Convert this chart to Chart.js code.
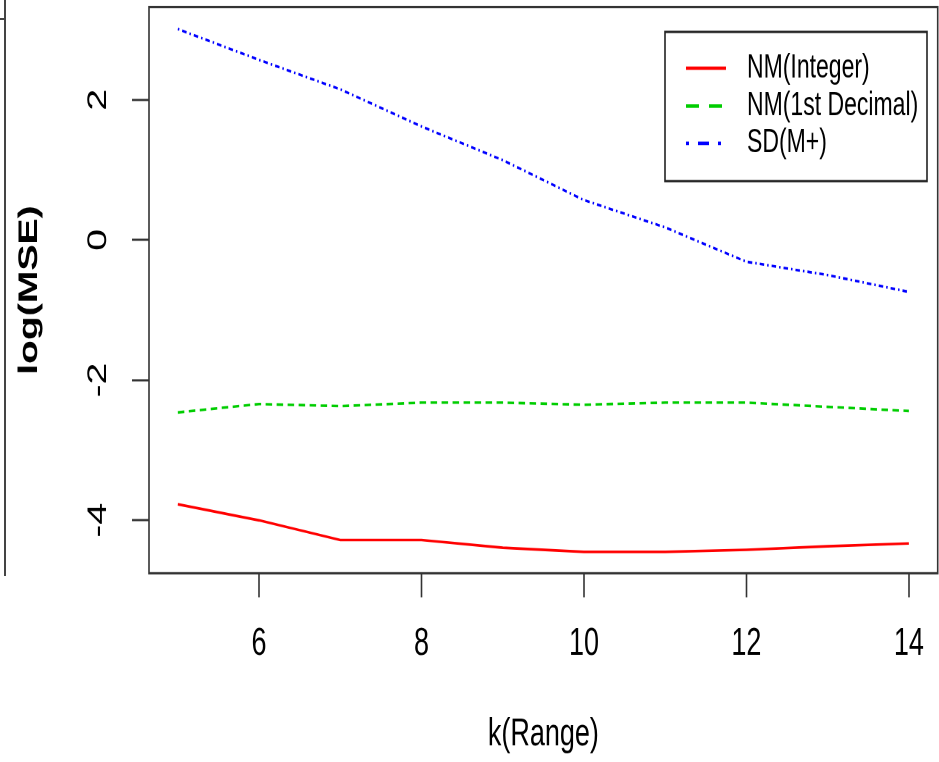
<!DOCTYPE html>
<html>
<head>
<meta charset="utf-8">
<script src="https://cdn.jsdelivr.net/npm/chart.js@4/dist/chart.umd.min.js"></script>
<style>
  html, body { margin: 0; padding: 0; background: #fff; overflow: hidden; }
  #wrap { position: relative; width: 939px; height: 762px; }
  /* the reference is an R plot squeezed into a tall frame, so the canvas is drawn short and stretched */
  #chart { position: absolute; left: 0; top: 0; width: 939px; height: 526px; transform-origin: 0 0; transform: scaleY(1.4487); }
  .panel-edge { position: absolute; left: 4px; top: 0; height: 576px; border-left: 2px solid #444; }
  .panel-tick { position: absolute; left: 0; top: 18px; width: 4px; border-top: 2px solid #444; }
</style>
</head>
<body>
<div id="wrap">
  <div class="panel-edge"></div>
  <div class="panel-tick"></div>
  <canvas id="chart" width="939" height="526"></canvas>
</div>
<script>
  const kValues = [5, 6, 7, 8, 9, 10, 11, 12, 13, 14];
  const nmInteger = [-3.77, -4.0, -4.28, -4.28, -4.39, -4.45, -4.45, -4.42, -4.37, -4.33];
  const nmDecimal = [-2.46, -2.34, -2.37, -2.32, -2.32, -2.35, -2.32, -2.32, -2.38, -2.44];
  const sdMplus = [3.01, 2.57, 2.15, 1.62, 1.14, 0.57, 0.18, -0.31, -0.50, -0.74];
  const seriesNames = ['NM(Integer)', 'NM(1st Decimal)', 'SD(M+)'];
  const xTicks = [6, 8, 10, 12, 14];
  const yTicks = [-4, -2, 0, 2];

  const FONT = "'Liberation Sans', Arial, sans-serif";
  const AXIS = '#333';

  function toPoints(values) {
    return kValues.map((k, i) => ({ x: k, y: values[i] }));
  }

  // box round the plot area, like R's box()
  const boxPlugin = {
    id: 'plotBox',
    afterDraw(chart) {
      const { ctx, chartArea: a } = chart;
      ctx.save();
      ctx.strokeStyle = AXIS;
      ctx.lineWidth = 1.6;
      ctx.strokeRect(a.left, a.top, a.right - a.left, a.bottom - a.top);
      ctx.restore();
    }
  };

  // R style legend with a framed box in the top right corner
  const legendPlugin = {
    id: 'rLegend',
    afterDraw(chart) {
      const { ctx } = chart;
      const box = { left: 665, top: 22, right: 927, bottom: 125 };
      const rowY = [47.1, 73.2, 98.9];
      const sampleDash = [[], [13, 10], [3, 9, 11, 9]];
      ctx.save();
      ctx.fillStyle = '#fff';
      ctx.fillRect(box.left, box.top, box.right - box.left, box.bottom - box.top);
      ctx.strokeStyle = '#222';
      ctx.lineWidth = 1.6;
      ctx.strokeRect(box.left, box.top, box.right - box.left, box.bottom - box.top);
      chart.data.datasets.forEach((ds, i) => {
        const y = rowY[i];
        ctx.beginPath();
        ctx.strokeStyle = ds.borderColor;
        ctx.lineWidth = 2.4;
        ctx.setLineDash(sampleDash[i]);
        ctx.moveTo(686, y);
        ctx.lineTo(726, y);
        ctx.stroke();
        ctx.setLineDash([]);
        ctx.fillStyle = '#000';
        ctx.font = '23px ' + FONT;
        ctx.textBaseline = 'middle';
        ctx.textAlign = 'left';
        ctx.fillText(ds.label, 747, y);
      });
      ctx.restore();
    }
  };

  const lineStyle = { pointRadius: 0, borderWidth: 1.8, tension: 0, fill: false };

  new Chart(document.getElementById('chart'), {
    type: 'line',
    data: {
      datasets: [
        { label: seriesNames[0], data: toPoints(nmInteger), borderColor: '#FF0000', ...lineStyle },
        { label: seriesNames[1], data: toPoints(nmDecimal), borderColor: '#00CD00', borderDash: [6.5, 4.5], ...lineStyle },
        { label: seriesNames[2], data: toPoints(sdMplus), borderColor: '#0000FF', borderDash: [1.5, 3, 4.5, 3], ...lineStyle }
      ]
    },
    options: {
      responsive: false,
      devicePixelRatio: 2,
      animation: false,
      layout: { padding: { top: 4.8, right: 1.3, left: 0, bottom: 0 } },
      plugins: { legend: { display: false }, tooltip: { enabled: false } },
      scales: {
        x: {
          type: 'linear',
          min: 4.645,
          max: 14.355,
          afterBuildTicks: s => { s.ticks = xTicks.map(v => ({ value: v })); },
          afterFit: s => { s.height = 130.3; s.paddingLeft = 0; s.paddingRight = 0; },
          border: { display: false },
          grid: { drawOnChartArea: false, drawTicks: true, tickLength: 16.6, tickColor: AXIS, tickWidth: 1.6 },
          ticks: { color: '#000', font: { family: FONT, size: 27 }, padding: 16, maxRotation: 0 },
          title: { display: true, text: 'k(Range)', color: '#000', font: { family: FONT, size: 27 }, padding: { top: 0, bottom: 2.7 } }
        },
        y: {
          type: 'linear',
          min: -4.755,
          max: 3.325,
          afterBuildTicks: s => { s.ticks = yTicks.map(v => ({ value: v })); },
          afterFit: s => { s.width = 149; s.paddingTop = 0; s.paddingBottom = 0; },
          border: { display: false },
          grid: { drawOnChartArea: false, drawTicks: true, tickLength: 17, tickColor: AXIS, tickWidth: 1.6 },
          ticks: { color: '#000', font: { family: FONT, size: 27 }, padding: 21.5, minRotation: 90, maxRotation: 90, crossAlign: 'center' },
          title: { display: true, text: 'log(MSE)', color: '#000', font: { family: FONT, size: 27, weight: 'bold' }, padding: { top: 13.2, bottom: 0 } }
        }
      }
    },
    plugins: [boxPlugin, legendPlugin]
  });
</script>
</body>
</html>
